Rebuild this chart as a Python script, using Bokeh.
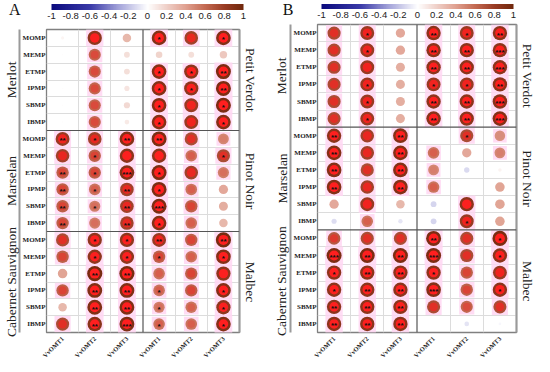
import math
from bokeh.plotting import figure
from bokeh.models import (ColumnDataSource, LinearColorMapper, ColorBar, FixedTicker,
                          LinearAxis, Range1d, Span, AllLabels)
from bokeh.layouts import row, column
from bokeh.transform import linear_cmap
from bokeh.embed import file_html
from bokeh.resources import INLINE
from bokeh.core.properties import value

# ---------------- data ----------------
compounds = ["MOMP", "MEMP", "ETMP", "IPMP", "SBMP", "IBMP"]
genes = ["VvOMT1", "VvOMT2", "VvOMT3", "VvOMT1", "VvOMT2", "VvOMT3"]
left_cultivars = ["Merlot", "Marselan", "Cabernet Sauvignon"]
right_cultivars = ["Petit Verdot", "Pinot Noir", "Malbec"]
bar_ticks = [-1, -0.8, -0.6, -0.4, -0.2, 0, 0.2, 0.4, 0.6, 0.8, 1]

# panel A: correlation coefficients (rows: 3 x 6 compounds, cols: 6 genes)
a_merlot = [[0.04, 0.85, 0.30, 0.90, 0.77, 0.90],
            [0.01, 0.61, 0.14, 0.18, 0.14, 0.23],
            [0.00, 0.61, 0.14, 0.90, 0.85, 0.94],
            [0.01, 0.61, 0.11, 0.90, 0.85, 0.94],
            [0.01, 0.61, 0.16, 0.90, 0.81, 0.94],
            [0.01, 0.61, 0.09, 0.90, 0.81, 0.90]]
a_marselan = [[0.81, 0.77, 0.90, 0.94, 0.72, 0.49],
              [0.77, 0.64, 0.86, 0.86, 0.56, 0.72],
              [0.64, 0.64, 0.90, 0.94, 0.77, 0.52],
              [0.64, 0.56, 0.77, 0.94, 0.56, 0.36],
              [0.64, 0.52, 0.77, 0.94, 0.64, 0.34],
              [0.64, 0.52, 0.77, 0.90, 0.56, 0.30]]
a_cabernet = [[0.72, 0.85, 0.85, 0.81, 0.64, 0.96],
              [0.64, 0.85, 0.85, 0.64, 0.56, 0.90],
              [0.38, 0.96, 0.96, 0.56, 0.64, 0.85],
              [0.64, 0.92, 0.92, 0.56, 0.64, 0.90],
              [0.30, 0.92, 0.92, 0.52, 0.56, 0.85],
              [0.72, 0.88, 0.92, 0.56, 0.56, 0.90]]
a_sig = [["", "", "", "*", "", "*"],
         ["", "", "", "", "", ""],
         ["", "", "", "*", "*", "**"],
         ["", "", "", "*", "*", "**"],
         ["", "", "", "*", "", "*"],
         ["", "", "", "*", "", "*"],
         ["**", "*", "**", "**", "", ""],
         ["", "*", "", "", "", "*"],
         ["**", "*", "***", "*", "", ""],
         ["**", "*", "**", "*", "", ""],
         ["**", "*", "**", "***", "", ""],
         ["**", "", "**", "*", "", ""],
         ["", "*", "*", "**", "", "**"],
         ["", "*", "*", "*", "", "*"],
         ["", "**", "**", "", "", ""],
         ["", "**", "**", "*", "", "*"],
         ["", "**", "**", "*", "", "*"],
         ["", "**", "***", "*", "", "*"]]

# panel B
b_merlot = [[0.72, 0.81, 0.36, 0.86, 0.81, 0.86],
            [0.72, 0.81, 0.36, 0.86, 0.86, 0.86],
            [0.72, 0.81, 0.34, 0.86, 0.86, 0.86],
            [0.72, 0.81, 0.34, 0.81, 0.81, 0.86],
            [0.72, 0.81, 0.34, 0.86, 0.86, 0.88],
            [0.72, 0.81, 0.34, 0.88, 0.86, 0.90]]
b_marselan = [[0.86, 0.77, 0.90, 0.00, 0.72, 0.46],
              [0.90, 0.77, 0.90, 0.56, 0.36, 0.49],
              [0.90, 0.72, 0.90, 0.49, -0.12, 0.05],
              [0.90, 0.77, 0.90, 0.56, 0.00, 0.38],
              [0.36, 0.81, 0.30, -0.14, 0.86, 0.38],
              [-0.11, 0.56, -0.08, -0.14, 0.81, 0.38]]
b_cabernet = [[0.67, 0.72, 0.72, 0.94, 0.72, 0.94],
              [0.94, 0.94, 0.94, 0.94, 0.72, 0.86],
              [0.86, 0.86, 0.86, 0.86, 0.64, 0.81],
              [0.86, 0.86, 0.86, 0.90, 0.64, 0.86],
              [0.86, 0.86, 0.86, 0.72, 0.61, 0.72],
              [0.86, 0.86, 0.86, 0.00, -0.09, -0.03]]
b_sig = [["", "*", "", "**", "*", "**"],
         ["", "*", "", "**", "**", "***"],
         ["", "", "", "**", "**", "***"],
         ["", "*", "", "*", "*", "**"],
         ["", "*", "", "**", "**", "***"],
         ["", "*", "", "**", "**", "***"],
         ["**", "", "**", "", "*", ""],
         ["**", "", "**", "", "", ""],
         ["**", "", "**", "", "", ""],
         ["**", "", "**", "", "", ""],
         ["", "", "", "", "", ""],
         ["", "", "", "", "*", ""],
         ["", "", "", "**", "", "*"],
         ["***", "**", "**", "***", "", "*"],
         ["*", "**", "**", "*", "", ""],
         ["*", "**", "**", "***", "", "*"],
         ["**", "**", "**", "", "", ""],
         ["**", "**", "**", "", "", ""]]

# ---------------- style ----------------
SERIF = "Liberation Serif"
SANS = "Liberation Sans"
anchors = [(-1.0, "#0b0b7e"), (-0.6, "#3a3aa8"), (-0.3, "#a4a4da"), (0.0, "#ffffff"),
           (0.2, "#efd0c8"), (0.4, "#e0a090"), (0.6, "#c46a52"), (0.8, "#9a3c24"),
           (1.0, "#70280c")]


def _rgb(h):
    return tuple(int(h[i:i + 2], 16) for i in (1, 3, 5))


palette = []
for k in range(256):
    v = -1 + 2 * k / 255
    for (v0, c0), (v1, c1) in zip(anchors[:-1], anchors[1:]):
        if v0 <= v <= v1:
            t = (v - v0) / (v1 - v0)
            a, b = _rgb(c0), _rgb(c1)
            palette.append("#%02x%02x%02x" % tuple(round(a[i] + (b[i] - a[i]) * t) for i in range(3)))
            break

MAXD = 15.5
W = 271


def make_header(letter, hh, fw, letter_y, letter_standoff, bar_loc, bar_h):
    # frame of the header is aligned with the frame of the panel below it (width fw)
    h = figure(width=W, height=hh, x_range=Range1d(0, fw), y_range=Range1d(hh, 0),
               output_backend="svg", toolbar_location=None, min_border=0,
               x_axis_location=None, y_axis_location="left")
    h.outline_line_color = None
    h.xgrid.visible = False
    h.ygrid.visible = False
    la = h.yaxis[0]
    la.ticker = FixedTicker(ticks=[letter_y])
    la.major_label_overrides = {letter_y: letter}
    la.major_label_text_font = SERIF
    la.major_label_text_font_size = "16px"
    la.major_label_text_color = "#111111"
    la.major_label_standoff = letter_standoff
    la.axis_line_color = None
    la.major_tick_line_color = None
    la.minor_tick_line_color = None
    la.major_tick_out = 0
    la.minor_tick_out = 0
    mapper = LinearColorMapper(palette=palette, low=-1, high=1)
    cb = ColorBar(color_mapper=mapper, orientation="horizontal", width=192, height=bar_h,
                  ticker=FixedTicker(ticks=bar_ticks),
                  major_label_overrides={t: f"{t:g}" for t in bar_ticks},
                  major_label_policy=AllLabels(),
                  padding=0, margin=0, location=bar_loc, label_standoff=3,
                  major_tick_line_color=None, minor_tick_line_color=None,
                  bar_line_color=None, border_line_color=None, background_fill_alpha=0,
                  major_label_text_font=SANS, major_label_text_font_size="9.5px",
                  major_label_text_color="#222222")
    h.add_layout(cb, "center")
    return h


def make_panel(matrix, sig, H, bl, br, bb):
    xs, ys, rs, sz, inner_sz, inner_a, pink_sz, pink_a, st = [], [], [], [], [], [], [], [], []
    for i, rowvals in enumerate(matrix):
        for j, r in enumerate(rowvals):
            xs.append(j + 0.5)
            ys.append(i + 0.5)
            rs.append(r)
            d = MAXD * math.sqrt(abs(r))
            sz.append(d)
            inner_sz.append(d * 0.66)
            inner_a.append(max(0.0, min(1.0, (r - 0.45) * 2.4)))
            pink_sz.append(d + 3)
            pink_a.append(0.85 if r > 0.45 else 0.0)
            st.append(sig[i][j])
    src = ColumnDataSource(dict(x=xs, y=ys, r=rs, size=sz, isize=inner_sz, ia=inner_a,
                                psize=pink_sz, pa=pink_a, stars=st))

    p = figure(width=W, height=H, x_range=Range1d(0, 6), y_range=Range1d(18, 0),
               output_backend="svg", toolbar_location=None,
               min_border_left=bl, min_border_right=br, min_border_top=1, min_border_bottom=bb)
    p.outline_line_color = "#808080"
    p.outline_line_width = 1.3

    # light cell grid
    p.xgrid.ticker = FixedTicker(ticks=[1, 2, 4, 5])
    p.ygrid.ticker = FixedTicker(ticks=[k for k in range(1, 18) if k not in (6, 12)])
    p.xgrid.grid_line_color = "#dcdcdc"
    p.ygrid.grid_line_color = "#dcdcdc"

    # bottom axis: genes
    xa = p.xaxis[0]
    xa.ticker = FixedTicker(ticks=[j + 0.5 for j in range(6)])
    xa.major_label_overrides = {j + 0.5: genes[j] for j in range(6)}
    xa.major_label_orientation = math.pi / 4
    xa.major_label_text_font = SERIF
    xa.major_label_text_font_style = "bold"
    xa.major_label_text_font_size = "6.5px"
    xa.major_label_text_color = "#222222"
    xa.axis_line_color = None
    xa.major_tick_line_color = None
    xa.minor_tick_line_color = None
    xa.major_tick_out = 0
    xa.minor_tick_out = 0
    xa.major_label_standoff = 5

    # left axis: compounds
    ya = p.yaxis[0]
    ya.ticker = FixedTicker(ticks=[i + 0.5 for i in range(18)])
    ya.major_label_overrides = {i + 0.5: compounds[i % 6] for i in range(18)}
    ya.major_label_text_font = SERIF
    ya.major_label_text_font_style = "bold"
    ya.major_label_text_font_size = "7px"
    ya.major_label_text_color = "#222222"
    ya.axis_line_color = None
    ya.major_tick_line_color = None
    ya.minor_tick_line_color = None
    ya.major_tick_out = 0
    ya.minor_tick_out = 0
    ya.major_label_standoff = 1

    # outer left axis: cultivars
    ga = LinearAxis(ticker=FixedTicker(ticks=[3, 9, 15]),
                    major_label_overrides={3: left_cultivars[0], 9: left_cultivars[1], 15: left_cultivars[2]})
    ga.major_label_orientation = "vertical"
    ga.major_label_text_font = SERIF
    ga.major_label_text_font_size = "13.5px"
    ga.major_label_text_color = "#222222"
    ga.axis_line_color = "#9a9a9a"
    ga.axis_line_width = 2
    ga.major_tick_line_color = None
    ga.minor_tick_line_color = None
    ga.major_tick_out = 0
    ga.minor_tick_out = 0
    ga.major_label_standoff = 1
    p.add_layout(ga, "left")

    # right: spacer + cultivars
    sp = LinearAxis(ticker=FixedTicker(ticks=[]), axis_line_color=None,
                    major_tick_line_color=None, minor_tick_line_color=None,
                    major_tick_out=4, minor_tick_out=0, major_label_standoff=0)
    p.add_layout(sp, "right")
    ra = LinearAxis(ticker=FixedTicker(ticks=[3, 9, 15]),
                    major_label_overrides={3: right_cultivars[0], 9: right_cultivars[1], 15: right_cultivars[2]})
    ra.major_label_orientation = "vertical"
    ra.major_label_text_font = SERIF
    ra.major_label_text_font_size = "13.5px"
    ra.major_label_text_color = "#222222"
    ra.axis_line_color = "#9a9a9a"
    ra.axis_line_width = 2
    ra.major_tick_line_color = None
    ra.minor_tick_line_color = None
    ra.major_tick_out = 0
    ra.minor_tick_out = 0
    ra.major_label_standoff = 3
    p.add_layout(ra, "right")

    # dividers
    p.add_layout(Span(location=3, dimension="height", line_color="#555555", line_width=1.2))
    p.add_layout(Span(location=6, dimension="width", line_color="#555555", line_width=1.2))
    p.add_layout(Span(location=12, dimension="width", line_color="#555555", line_width=1.2))

    # circles
    p.scatter("x", "y", source=src, marker="square", size="psize", fill_color="#ffd6f2",
              fill_alpha="pa", line_color=None)
    p.scatter("x", "y", source=src, marker="circle", size="size",
              fill_color=linear_cmap("r", palette, -1, 1), line_color=None)
    p.scatter("x", "y", source=src, marker="circle", size="isize", fill_color="#ff1f1f",
              fill_alpha="ia", line_color=None)
    p.text("x", "y", text="stars", source=src, text_font=value(SANS), text_font_size="8px",
           text_font_style="bold", text_align="center", text_baseline="middle",
           text_color="#111111", y_offset=2)
    return p


A_BL, A_BR, B_BL, B_BR = 40, 32, 41, 26
A_HH, B_HH = 28, 23
hA = make_header("A", A_HH, W - A_BL - A_BR, 8, 26, (5, 6.5), 6)
pA = make_panel(a_merlot + a_marselan + a_cabernet, a_sig, 364 - A_HH, A_BL, A_BR, 30)
hB = make_header("B", B_HH, W - B_BL - B_BR, 8, 24, (4, 2.5), 5)
pB = make_panel(b_merlot + b_marselan + b_cabernet, b_sig, 364 - B_HH, B_BL, B_BR, 32)

layout = row(column(hA, pA), column(hB, pB))
open("out.html", "w").write(file_html(layout, INLINE))
